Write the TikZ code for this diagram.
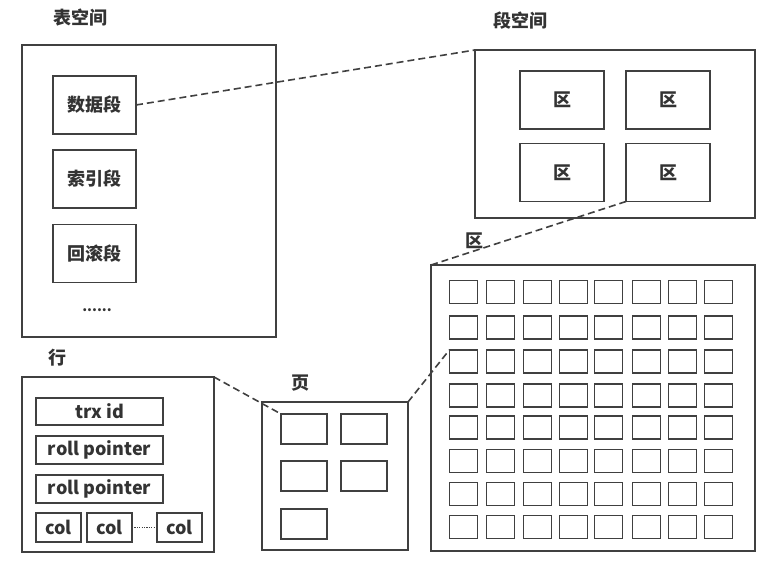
\documentclass[tikz,border=0pt]{standalone}
\usepackage{fontspec}
\setmainfont{Noto Sans CJK SC}
\begin{document}
\begin{tikzpicture}[x=1pt,y=-1pt,
  lc/.style={draw=black!75, line width=1.5pt, inner sep=0pt, outer sep=0pt, fill=white},
  box/.style={lc, rectangle, text=black!80, font=\fontsize{18}{18}\selectfont\bfseries},
  lbl/.style={inner sep=0pt, text=black!80, font=\fontsize{18}{18}\selectfont\bfseries},
  cell/.style={lc, minimum width=28pt, minimum height=23pt},
  pcell/.style={lc, minimum width=46pt, minimum height=30pt},
  link/.style={draw=black!75, line width=1.6pt, dash pattern=on 7pt off 4pt}]
\useasboundingbox (0,0) rectangle (764,565);
% tablespace
\node[lbl] (tsl) at (80,18) {表空间};
\node[box, minimum width=254pt, minimum height=292pt] (ts) at (149,191) {};
\node[box, minimum width=83pt, minimum height=58pt] (data) at (94.5,105) {数据段};
\node[box, minimum width=83pt, minimum height=58pt] (idx) at (94.5,179) {索引段};
\node[box, minimum width=83pt, minimum height=58pt] (undo) at (94.5,253.5) {回滚段};
\node[lbl, font=\fontsize{14}{14}\selectfont\bfseries] (dots) at (97,310) {......};
% segment space
\node[lbl] (ssl) at (520,21) {段空间};
\node[box, minimum width=280pt, minimum height=168pt] (seg) at (615,134) {};
\node[box, minimum width=84pt, minimum height=58pt] (e1) at (562,100) {区};
\node[box, minimum width=84pt, minimum height=58pt] (e2) at (668,100) {区};
\node[box, minimum width=84pt, minimum height=58pt] (e3) at (562,172.5) {区};
\node[box, minimum width=84pt, minimum height=58pt] (e4) at (668,172.5) {区};
% extent
\node[lbl] (exl) at (474,241) {区};
\node[box, minimum width=324pt, minimum height=286pt] (ext) at (593,408) {};
\foreach \c [count=\i] in {449.3,486.7,523.3,559.3,594.7,632.3,668.3,704.3}{
  \foreach \r [count=\j] in {280.7,316,350,384,416,449.3,482.7,515.3}{
    \node[cell] (g\j-\i) at (\c+14,\r+11.5) {};
  }
}
% page
\node[lbl] (pgl) at (300,383) {页};
\node[box, minimum width=146pt, minimum height=148pt] (pg) at (335,476) {};
\node[pcell] (p1) at (304,429) {};
\node[pcell] (p2) at (364,429) {};
\node[pcell] (p3) at (304,476) {};
\node[pcell] (p4) at (364,476) {};
\node[pcell] (p5) at (304,524) {};
% row
\node[lbl] (rwl) at (57,358) {行};
\node[box, minimum width=192pt, minimum height=175pt] (row) at (118,464.5) {};
\node[box, minimum width=127pt, minimum height=27pt] (trx) at (99.5,411.5) {trx id};
\node[box, minimum width=127pt, minimum height=28pt] (rp1) at (99.5,450) {roll pointer};
\node[box, minimum width=127pt, minimum height=28pt] (rp2) at (99.5,489) {roll pointer};
\node[box, minimum width=45pt, minimum height=29pt] (c1) at (58.5,527.5) {col};
\node[box, minimum width=45pt, minimum height=29pt] (c2) at (109.5,527.5) {col};
\node[box, minimum width=45pt, minimum height=29pt] (c3) at (179.5,527.5) {col};
\draw[draw=black!75, line width=1pt, dash pattern=on 1.2pt off 1.2pt] (c2.east) -- (c3.west);
% links
\draw[link] (data.east) -- (seg.north west);
\draw[link] (e4.south west) -- (ext.north west);
\draw[link] (pg.north east) -- (g3-1.north west);
\draw[link] (row.north east) -- (p1.north west);
\end{tikzpicture}
\end{document}
